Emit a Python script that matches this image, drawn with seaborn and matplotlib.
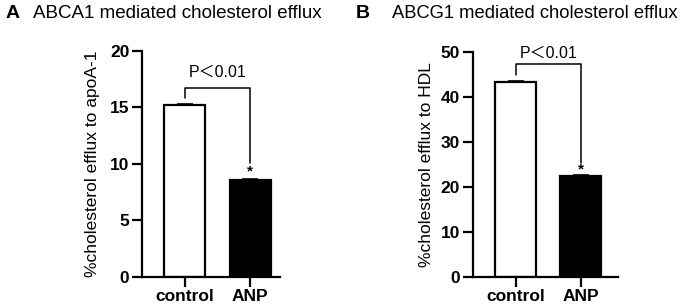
import numpy as np
import pandas as pd
import seaborn as sns
import matplotlib.pyplot as plt

groups = ['control', 'ANP']
abca1_means = [15.25, 8.58]
abca1_sem = [0.06, 0.06]
abcg1_means = [43.4, 22.5]
abcg1_sem = [0.15, 0.15]
abca1_ticks = [0, 5, 10, 15, 20]
abcg1_ticks = [0, 10, 20, 30, 40, 50]

sns.set_style('ticks')
plt.rcParams['font.family'] = ['Liberation Sans', 'Noto Sans CJK SC', 'DejaVu Sans']
for k in ['text.color', 'axes.labelcolor', 'xtick.color', 'ytick.color',
          'axes.edgecolor']:
    plt.rcParams[k] = 'black'

fig = plt.figure(figsize=(6.85, 3.07), dpi=100)
axA = fig.add_axes([0.207, 0.098, 0.202, 0.736])
axB = fig.add_axes([0.690, 0.098, 0.212, 0.733])


def panel(ax, means, sem, ticks, ylabel, xmax, bracket, star_y, p_y, lpad):
    df = pd.DataFrame({'group': groups, 'value': means})
    sns.barplot(data=df, x='group', y='value', hue='group',
                palette=['white', 'black'], edgecolor='black', linewidth=1.6,
                width=0.63, errorbar=None, legend=False, ax=ax)
    ax.errorbar([0, 1], means, yerr=sem, fmt='none', ecolor='black',
                elinewidth=1.2, capsize=6, capthick=1.2)
    ax.set_ylim(ticks[0], ticks[-1])
    ax.set_xlim(-0.66, xmax)
    ax.set_yticks(ticks)
    ax.set_xlabel('')
    ax.set_ylabel(ylabel, fontsize=12.5, labelpad=lpad)
    for s in ['top', 'right']:
        ax.spines[s].set_visible(False)
    for s in ['left', 'bottom']:
        ax.spines[s].set_linewidth(1.6)
    ax.tick_params(width=1.6, length=7, labelsize=12.5, pad=2)
    for lab in ax.get_xticklabels() + ax.get_yticklabels():
        lab.set_fontweight('bold')
    y0, ytop, y1 = bracket
    ax.plot([0, 0, 1, 1], [y0, ytop, ytop, y1], color='black', lw=1.1,
            clip_on=False)
    ax.text(1, star_y, '*', ha='center', va='center', fontsize=11,
            fontweight='bold')
    ax.text(0.5, p_y, 'P＜0.01', ha='center', va='center', fontsize=11.5)


panel(axA, abca1_means, abca1_sem, abca1_ticks,
      '%cholesterol efflux to apoA-1', 1.46, (15.8, 16.7, 10.1), 9.3, 18.1, 7)
panel(axB, abcg1_means, abcg1_sem, abcg1_ticks,
      '%cholesterol efflux to HDL', 1.57, (44.9, 47.3, 25.3), 23.9, 49.7, 5)

fig.text(0.008, 0.955, 'A', fontsize=14, fontweight='bold', va='center')
fig.text(0.048, 0.955, 'ABCA1 mediated cholesterol efflux', fontsize=13.5,
         va='center')
fig.text(0.520, 0.955, 'B', fontsize=14, fontweight='bold', va='center')
fig.text(0.572, 0.955, 'ABCG1 mediated cholesterol efflux', fontsize=13.2,
         va='center')

fig.savefig('out.png', dpi=100)
